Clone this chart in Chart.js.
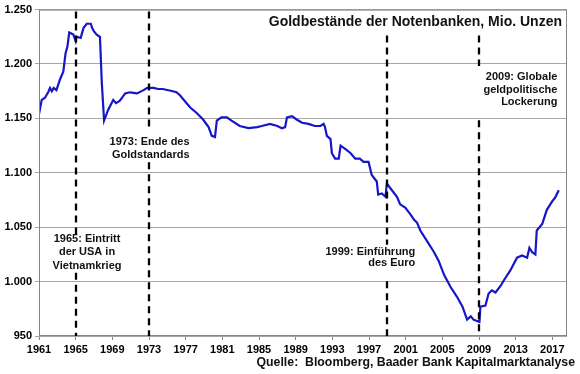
<!DOCTYPE html>
<html>
<head>
<meta charset="utf-8">
<script src="https://cdn.jsdelivr.net/npm/chart.js@4"></script>
<style>
  html, body { margin: 0; padding: 0; background: #fff; }
  #wrap { width: 580px; height: 374px; }
</style>
</head>
<body>
<div id="wrap"><canvas id="gold"></canvas></div>
<script>
const jahre = [
  1961.0, 1961.3, 1961.65, 1962.0, 1962.2, 1962.4, 1962.6, 1962.9, 1963.3, 1963.65,
  1963.9, 1964.1, 1964.3, 1964.75, 1965.0, 1965.1, 1965.55, 1965.85, 1966.2, 1966.65,
  1966.8, 1967.0, 1967.3, 1967.65, 1967.85, 1968.1, 1968.55, 1969.1, 1969.4, 1969.8,
  1970.4, 1970.9, 1971.7, 1972.4, 1972.8, 1973.5, 1974.0, 1974.5, 1975.6, 1976.0,
  1976.4, 1977.1, 1977.5, 1978.2, 1978.9, 1979.5, 1979.85, 1980.2, 1980.4, 1980.9,
  1981.5, 1982.0, 1982.9, 1983.85, 1984.8, 1985.3, 1986.2, 1987.0, 1987.5, 1987.85,
  1988.05, 1988.6, 1989.1, 1989.7, 1990.4, 1991.1, 1991.7, 1992.05, 1992.2, 1992.4,
  1992.8, 1992.95, 1993.3, 1993.7, 1993.9, 1994.4, 1995.0, 1995.5, 1996.0, 1996.4,
  1996.95, 1997.3, 1997.85, 1998.0, 1998.4, 1998.8, 1998.95, 1999.5, 2000.05, 2000.4,
  2000.95, 2001.5, 2001.9, 2002.25, 2002.6, 2003.35, 2004.1, 2004.6, 2005.2, 2005.9,
  2006.6, 2007.2, 2007.7, 2008.1, 2008.4, 2009.05, 2009.15, 2009.7, 2010.05, 2010.4,
  2010.8, 2011.35, 2011.7, 2012.4, 2013.15, 2013.7, 2014.25, 2014.5, 2014.8, 2015.15,
  2015.3, 2015.9, 2016.4, 2017.0, 2017.3, 2017.7
];
const bestand = [
  1154, 1167, 1169, 1174, 1178, 1175, 1178, 1176, 1186, 1193,
  1210, 1216, 1229, 1227, 1221, 1225, 1224, 1233, 1237, 1237,
  1233, 1230, 1227, 1225, 1183, 1148, 1158, 1167, 1164, 1166,
  1173, 1174, 1173, 1176, 1178, 1178, 1177, 1177, 1175, 1174,
  1171, 1164, 1160, 1155, 1149, 1142, 1134, 1133, 1148, 1151,
  1151, 1148, 1143, 1141, 1142, 1143, 1145, 1143, 1141, 1142,
  1151, 1152, 1149, 1146, 1145, 1143, 1143, 1145, 1142, 1134,
  1131, 1118, 1113, 1113, 1125, 1122, 1118, 1113, 1113, 1110,
  1110, 1098, 1092, 1080, 1081, 1078, 1090, 1084, 1078, 1071,
  1068, 1062, 1057, 1054, 1047, 1037, 1027, 1019, 1006, 995,
  986, 977, 965, 968, 965, 963, 977, 978, 989, 992,
  990, 996, 1001, 1010, 1022, 1024, 1022, 1031, 1027, 1025,
  1047, 1053, 1066, 1074, 1077, 1084
];
const tickJahre = [1961, 1965, 1969, 1973, 1977, 1981, 1985, 1989, 1993, 1997, 2001, 2005, 2009, 2013, 2017];
const ereignisJahre = [1965, 1973, 1999, 2009];
const ereignisTexte = [
  ['1965: Eintritt', 'der USA in', 'Vietnamkrieg'],
  ['1973: Ende des', 'Goldstandards'],
  ['1999: Einführung', 'des Euro'],
  ['2009: Globale', 'geldpolitische', 'Lockerung']
];

// wo die Texte stehen (Achsenwerte), oben/unten = Lücke in der Strichlinie
const textPos = [
  { x: 1966.24, y: 1039, align: 'center', lh: 13.3, oben: -5, unten: 7 },
  { x: 1977.43, y: 1128, align: 'right', lh: 12.8, oben: -13, unten: 7 },
  { x: 2002.05, y: 1027.5, align: 'right', lh: 11.5, oben: -7, unten: 18 },
  { x: 2017.55, y: 1188, align: 'right', lh: 12.6, oben: -11, unten: 18 }
];

const schrift = '"Liberation Sans", Arial, sans-serif';

function deZahl(v) {
  if (v >= 1000) return Math.floor(v / 1000) + '.' + String(v % 1000).padStart(3, '0');
  return String(v);
}

const extras = {
  id: 'extras',
  afterDatasetsDraw(chart) {
    const ctx = chart.ctx;
    const a = chart.chartArea;
    const xs = chart.scales.x;
    const ys = chart.scales.y;

    ctx.save();
    ctx.strokeStyle = '#868686';
    ctx.lineWidth = 1;
    ctx.strokeRect(a.left + 0.5, a.top + 0.5, a.right - a.left - 1, a.bottom - a.top - 1);

    const titel = 'Goldbestände der Notenbanken, Mio. Unzen';
    ctx.font = 'bold 14px ' + schrift;
    const tw = ctx.measureText(titel).width;
    const titelLinks = a.right - 5 - tw - 4;

    // gestrichelte Linien, mit Lücken hinter den Texten
    ctx.strokeStyle = '#000';
    ctx.lineWidth = 2.3;
    ctx.setLineDash([7, 5]);
    ereignisJahre.forEach((j, i) => {
      const px = Math.round(xs.getPixelForValue(j));
      const p = textPos[i];
      const py = ys.getPixelForValue(p.y);
      const gapOben = py + p.oben;
      const gapUnten = py + p.lh * (ereignisTexte[i].length - 1) + p.unten;
      const start = px > titelLinks ? a.top + 26 : a.top + 2;
      ctx.beginPath();
      ctx.moveTo(px, start);
      ctx.lineTo(px, gapOben);
      ctx.stroke();
      ctx.beginPath();
      ctx.moveTo(px, gapUnten);
      ctx.lineTo(px, a.bottom);
      ctx.stroke();
    });
    ctx.setLineDash([]);

    ctx.font = 'bold 11px ' + schrift;
    ctx.textBaseline = 'middle';
    ctx.fillStyle = '#111';
    ereignisTexte.forEach((zeilen, i) => {
      const p = textPos[i];
      const px = xs.getPixelForValue(p.x);
      const py = ys.getPixelForValue(p.y);
      ctx.textAlign = p.align;
      zeilen.forEach((z, k) => {
        ctx.fillText(z, px, py + k * p.lh);
      });
    });

    ctx.font = 'bold 14px ' + schrift;
    ctx.textAlign = 'right';
    ctx.fillText(titel, a.right - 5, a.top + 13);

    ctx.font = 'bold 12.3px ' + schrift;
    ctx.fillText('Quelle:  Bloomberg, Baader Bank Kapitalmarktanalyse', 575, 363);
    ctx.restore();
  }
};

const ctx = document.getElementById('gold').getContext('2d');

let myChart = new Chart(ctx, {
  type: 'line',
  data: {
    datasets: [{
      data: jahre.map((j, i) => ({ x: j, y: bestand[i] })),
      borderColor: '#1616c8',
      borderWidth: 2.2,
      pointRadius: 0,
      tension: 0,
      fill: false
    }]
  },
  options: {
    responsive: true,
    maintainAspectRatio: false,
    animation: false,
    layout: { padding: { top: 6, right: 13, left: 0, bottom: 0 } },
    plugins: {
      legend: { display: false },
      tooltip: { enabled: false }
    },
    scales: {
      x: {
        type: 'linear',
        min: 1961,
        max: 2018.6,
        afterBuildTicks: (s) => { s.ticks = tickJahre.map((v) => ({ value: v })); },
        afterFit: (s) => { s.height = 38; },
        ticks: {
          callback: (v) => String(v),
          color: '#000',
          padding: 3,
          maxRotation: 0,
          autoSkip: false,
          font: { family: schrift, size: 11, weight: 'bold' }
        },
        grid: { drawOnChartArea: false, tickLength: 4, color: '#868686' },
        border: { display: false }
      },
      y: {
        min: 950,
        max: 1250,
        afterFit: (s) => { s.width = 39; },
        ticks: {
          stepSize: 50,
          callback: (v) => deZahl(v),
          color: '#000',
          padding: 3,
          font: { family: schrift, size: 11, weight: 'bold' }
        },
        grid: { color: '#a6a6a6', tickLength: 4 },
        border: { display: false }
      }
    }
  },
  plugins: [extras]
});
</script>
</body>
</html>
